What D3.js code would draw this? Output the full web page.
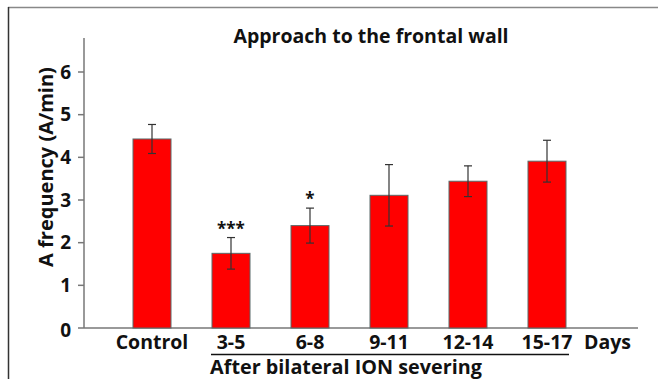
<!DOCTYPE html>
<html><head><meta charset="utf-8">
<script src="https://cdn.jsdelivr.net/npm/d3@7"></script>
<style>body{margin:0;background:#fff}svg{display:block}text{font-family:"Open Sans",sans-serif;font-weight:bold;fill:#111}</style>
</head><body><svg id="c" width="658" height="379"></svg>
<script>
const categories = ["Control","3-5","6-8","9-11","12-14","15-17"];
const values = [4.43, 1.75, 2.4, 3.11, 3.44, 3.91];
const errors = [0.34, 0.37, 0.41, 0.72, 0.36, 0.49];
const marks = ["", "***", "*", "", "", ""];
const yTicks = [0,1,2,3,4,5,6];

const svg = d3.select("#c");
// frame
svg.append("line").attr("x1",8).attr("x2",658).attr("y1",7.5).attr("y2",7.5).attr("stroke","#888").attr("stroke-width",1.5);
svg.append("line").attr("x1",8.5).attr("x2",8.5).attr("y1",7).attr("y2",379).attr("stroke","#333").attr("stroke-width",1.5);

const y = d3.scaleLinear().domain([0,6]).range([328,72]);
const x = d3.scalePoint().domain(categories).range([152,547]);
const bw = 38;

// axes
svg.append("line").attr("x1",84).attr("x2",84).attr("y1",38).attr("y2",328).attr("stroke","#777").attr("stroke-width",1.5);
svg.append("line").attr("x1",84).attr("x2",638).attr("y1",328).attr("y2",328).attr("stroke","#777").attr("stroke-width",1.5);
svg.selectAll(".yt").data(yTicks).join("line").attr("x1",78).attr("x2",84).attr("y1",d=>y(d)).attr("y2",d=>y(d)).attr("stroke","#777").attr("stroke-width",1.5);
svg.selectAll(".yl").data(yTicks).join("text").attr("x",71).attr("y",d=>y(d)+(d===0?9:6.5)).attr("text-anchor","end").attr("font-size",19).text(d=>d);

// bars
svg.selectAll(".bar").data(values).join("rect")
  .attr("x",(d,i)=>x(categories[i])-bw/2).attr("width",bw)
  .attr("y",d=>y(d)).attr("height",d=>y(0)-y(d))
  .attr("fill","#ff0000").attr("stroke","#5a6a6a").attr("stroke-width",1);
// error bars
const g = svg.append("g").attr("stroke","#333").attr("stroke-width",1.2);
values.forEach((v,i)=>{
  const cx = x(categories[i]);
  g.append("line").attr("x1",cx).attr("x2",cx).attr("y1",y(v+errors[i])).attr("y2",y(v-errors[i]));
  g.append("line").attr("x1",cx-4).attr("x2",cx+4).attr("y1",y(v+errors[i])).attr("y2",y(v+errors[i]));
  g.append("line").attr("x1",cx-4).attr("x2",cx+4).attr("y1",y(v-errors[i])).attr("y2",y(v-errors[i]));
});
svg.selectAll(".mk").data(marks).join("text")
  .attr("x",(d,i)=>x(categories[i])).attr("y",(d,i)=>y(values[i]+errors[i])-3)
  .attr("text-anchor","middle").attr("font-size",17).attr("font-weight","normal").attr("fill","#333").text(d=>d);

// x labels
svg.selectAll(".xl").data(categories).join("text")
  .attr("x",d=>x(d)).attr("y",349).attr("text-anchor","middle").attr("font-size",19.5).text(d=>d);
svg.append("text").attr("x",584).attr("y",349).attr("font-size",19.5).text("Days");
svg.append("line").attr("x1",211).attr("x2",569).attr("y1",354.5).attr("y2",354.5).attr("stroke","#111").attr("stroke-width",1.5);
svg.append("text").attr("x",346).attr("y",374).attr("text-anchor","middle").attr("font-size",19.8).text("After bilateral ION severing");

// title
svg.append("text").attr("x",371).attr("y",43).attr("text-anchor","middle").attr("font-size",19.5).text("Approach to the frontal wall");
// y label
svg.append("text").attr("transform","translate(53,167) rotate(-90)").attr("text-anchor","middle").attr("font-size",20).text("A frequency (A/min)");
</script></body></html>
